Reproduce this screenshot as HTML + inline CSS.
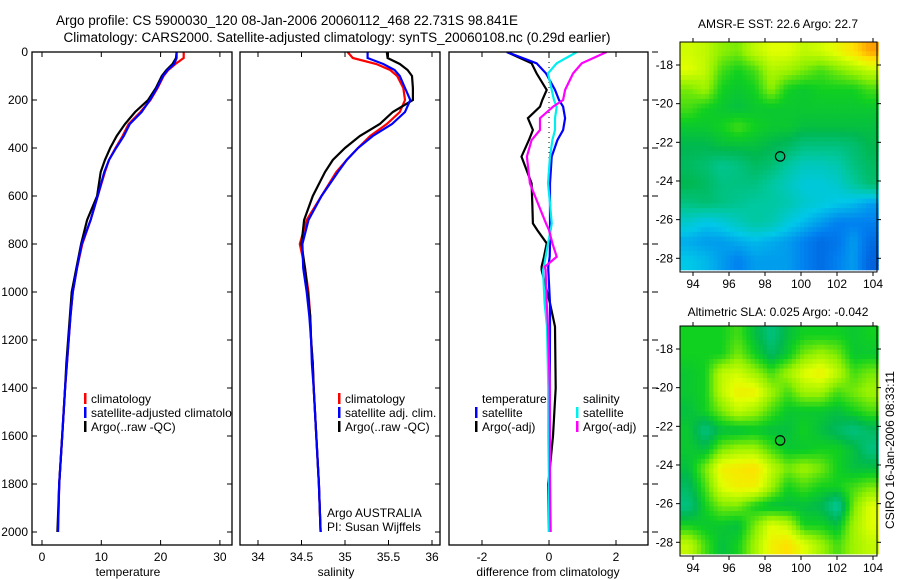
<!DOCTYPE html>
<html><head><meta charset="utf-8"><style>
html,body{margin:0;padding:0;background:#fff;}
svg{display:block;font-family:"Liberation Sans",sans-serif;}
</style></head><body>
<svg id="fig" width="900" height="580" viewBox="0 0 900 580" xmlns="http://www.w3.org/2000/svg">
<defs>
<clipPath id="clip1"><rect x="32" y="52" width="200" height="493"/></clipPath>
<clipPath id="clip2"><rect x="240" y="52" width="200" height="493"/></clipPath>
<clipPath id="clip3"><rect x="449" y="52" width="199" height="493"/></clipPath>
</defs>
<text x="287" y="25" font-size="13.5" text-anchor="middle">Argo profile: CS 5900030_120 08-Jan-2006 20060112_468 22.731S 98.841E</text>
<text x="337" y="42" font-size="13.5" text-anchor="middle">Climatology: CARS2000. Satellite-adjusted climatology: synTS_20060108.nc (0.29d earlier)</text>
<text x="778" y="28" font-size="12" text-anchor="middle">AMSR-E SST: 22.6 Argo: 22.7</text>
<text x="778" y="316" font-size="12" text-anchor="middle">Altimetric SLA: 0.025 Argo: -0.042</text>
<text transform="translate(894,450) rotate(-90)" font-size="12" text-anchor="middle">CSIRO 16-Jan-2006 08:33:11</text>
<g id="g"></g>
</svg>
<script>
// ---- profile data ----
const depths = [0,25,50,75,100,150,200,250,300,350,400,450,500,600,700,800,900,1000,1100,1200,1300,1400,1600,1800,2000];
const tempClim = [23.9,23.9,22.5,21.3,20.5,19.5,18.3,16.6,14.6,13.6,12.4,11.3,10.6,9.4,8.2,6.8,5.9,5.2,4.8,4.5,4.2,3.9,3.4,2.9,2.7];
const tempSat  = [22.7,22.7,22.3,21.2,20.4,19.4,18.2,16.8,14.8,13.8,12.5,11.3,10.5,9.4,8.2,6.7,5.9,5.2,4.8,4.5,4.2,3.9,3.4,2.9,2.7];
const tempArgo = [22.7,22.6,22.0,21.0,20.2,19.2,17.9,15.7,14.0,12.6,11.5,10.6,9.9,9.3,7.6,6.6,5.8,5.0,4.7,4.4,4.1,3.9,3.4,2.9,2.6];
const salClim = [35.03,35.09,35.36,35.52,35.60,35.67,35.69,35.63,35.48,35.29,35.15,35.02,34.90,34.73,34.56,34.48,34.54,34.58,34.60,34.61,34.63,34.64,34.67,34.70,34.72];
const salSat  = [35.26,35.26,35.44,35.57,35.63,35.69,35.75,35.69,35.54,35.32,35.15,35.02,34.92,34.73,34.58,34.51,34.52,34.56,34.59,34.61,34.62,34.64,34.67,34.70,34.72];
const salArgo = [35.48,35.49,35.63,35.72,35.77,35.78,35.78,35.55,35.40,35.17,35.00,34.86,34.77,34.63,34.53,34.50,34.54,34.57,34.60,34.61,34.63,34.64,34.67,34.70,34.72];
const diffDepths = [0,47,89,158,200,228,276,325,367,436,547,631,714,742,797,853,894,908,1047,1144,1400,1600,1800,2000];
const diffTempArgo = [-1.26,-0.52,-0.37,-0.07,-0.2,-0.27,-0.63,-0.48,-0.6,-0.82,-0.52,-0.5,-0.48,-0.35,-0.07,-0.15,-0.22,-0.22,0.03,0.18,0.2,0.12,-0.02,0];
const diffTempSat = [-1.26,-0.37,-0.09,0.18,0.3,0.42,0.48,0.42,0.25,0.08,0.03,0.03,0.03,0.03,0.03,0.02,-0.02,-0.02,0.03,0.03,0.02,0.02,0.03,0.03];
const diffSalSat = [0.83,0.23,-0.03,0.08,0.15,0.23,0.18,0.18,0.1,0.03,-0.03,0.03,0.08,0.05,-0.03,-0.1,-0.15,-0.18,-0.13,-0.06,-0.02,-0.02,0,0];
const diffSalArgo = [1.72,0.98,0.72,0.48,0.42,0.12,-0.27,-0.27,-0.52,-0.66,-0.57,-0.33,-0.09,0,0.1,0.23,-0.12,-0.1,-0.07,-0.03,0.02,0.03,0.03,0.05];
const depthTicks = [0,200,400,600,800,1000,1200,1400,1600,1800,2000];
const tempTicks = [0,10,20,30];
const salTicks = [34,34.5,35,35.5,36];
const diffTicks = [-2,0,2];
const latTicks = [18,20,22,24,26,28];
const lonTicks = [94,96,98,100,102,104];
const argoLon = 98.841, argoLat = 22.731;
// SST map (rows north->south, cols west->east)
const sstGrid = [
[0.67,0.66,0.63,0.62,0.66,0.68,0.68,0.66,0.67,0.69,0.72,0.76],
[0.68,0.66,0.60,0.58,0.60,0.65,0.64,0.62,0.60,0.62,0.64,0.66],
[0.62,0.64,0.58,0.57,0.58,0.63,0.58,0.57,0.58,0.58,0.58,0.60],
[0.60,0.58,0.57,0.56,0.57,0.57,0.57,0.57,0.57,0.57,0.57,0.57],
[0.57,0.57,0.58,0.60,0.58,0.57,0.57,0.56,0.56,0.56,0.56,0.56],
[0.55,0.55,0.56,0.56,0.56,0.55,0.54,0.52,0.52,0.52,0.53,0.55],
[0.54,0.53,0.51,0.52,0.54,0.53,0.50,0.48,0.48,0.49,0.52,0.54],
[0.55,0.54,0.52,0.52,0.52,0.50,0.48,0.46,0.46,0.47,0.50,0.53],
[0.52,0.53,0.52,0.51,0.50,0.50,0.49,0.47,0.46,0.45,0.44,0.42],
[0.47,0.45,0.46,0.48,0.50,0.49,0.46,0.44,0.42,0.40,0.40,0.40],
[0.43,0.42,0.42,0.43,0.44,0.43,0.42,0.40,0.38,0.39,0.42,0.38],
[0.45,0.44,0.42,0.40,0.42,0.42,0.42,0.40,0.38,0.40,0.42,0.37]];
const slaGrid = [
[0.58,0.58,0.58,0.60,0.56,0.52,0.56,0.58,0.58,0.58,0.57,0.58],
[0.58,0.58,0.58,0.62,0.58,0.54,0.57,0.62,0.64,0.62,0.57,0.57],
[0.57,0.58,0.66,0.67,0.64,0.60,0.64,0.68,0.70,0.66,0.60,0.62],
[0.57,0.58,0.66,0.70,0.70,0.64,0.60,0.64,0.64,0.60,0.62,0.64],
[0.56,0.58,0.62,0.66,0.64,0.60,0.57,0.57,0.57,0.56,0.58,0.60],
[0.57,0.52,0.56,0.56,0.57,0.56,0.56,0.58,0.56,0.54,0.52,0.54],
[0.57,0.56,0.62,0.64,0.64,0.60,0.57,0.57,0.58,0.58,0.56,0.52],
[0.56,0.62,0.70,0.71,0.72,0.66,0.62,0.64,0.62,0.58,0.56,0.56],
[0.54,0.60,0.68,0.70,0.70,0.64,0.58,0.60,0.58,0.58,0.60,0.62],
[0.52,0.58,0.62,0.62,0.58,0.56,0.56,0.56,0.55,0.50,0.62,0.68],
[0.58,0.57,0.57,0.56,0.62,0.68,0.66,0.58,0.58,0.56,0.64,0.68],
[0.66,0.60,0.56,0.58,0.64,0.70,0.72,0.68,0.64,0.60,0.64,0.66]];

const NS='http://www.w3.org/2000/svg';
const G=document.getElementById('g');
function mk(tag,attrs,parent){const e=document.createElementNS(NS,tag);for(const k in attrs)e.setAttribute(k,attrs[k]);(parent||G).appendChild(e);return e;}
const yD = d => 52 + d*0.24;
const xT = t => 42 + t*5.93;
const xS = s => 345 + (s-35)*87;
const xDf = v => 549 + v*33.5;
const panels = [[32,232],[240,440],[449,648]];
const TOP=52, BOT=545;
const layers=[1,2,3].map(i=>mk('g',{'clip-path':'url(#clip'+i+')'}));

panels.forEach((p,i)=>{
  const r=mk('rect',{x:p[0],y:TOP,width:p[1]-p[0],height:BOT-TOP,fill:'none',stroke:'#000','stroke-width':1.3});
  
  
  depthTicks.forEach(d=>{
    mk('line',{x1:p[1]-5,x2:p[1],y1:yD(d),y2:yD(d),stroke:'#000'});
    if(i===0) mk('line',{x1:p[0],x2:p[0]+5,y1:yD(d),y2:yD(d),stroke:'#000'});
  });
});
depthTicks.forEach(d=>{
  const t=mk('text',{x:28,y:yD(d)+4,'font-size':12,'text-anchor':'end'});
  t.textContent=d;
  
  
  mk('line',{x1:652,x2:658,y1:yD(d),y2:yD(d),stroke:'#000'});
});
function xTicks(ticks,fx){
  ticks.forEach(v=>{
    const x=fx(v);
    mk('line',{x1:x,x2:x,y1:BOT,y2:BOT-5,stroke:'#000'});
    mk('line',{x1:x,x2:x,y1:TOP,y2:TOP+5,stroke:'#000'});
    const t=mk('text',{x:x,y:561,'font-size':12,'text-anchor':'middle'});
    t.textContent=v;
    
    
  });
}
xTicks(tempTicks,xT);
xTicks(salTicks,xS);
xTicks(diffTicks,xDf);
[['temperature',128,'temperature-axis-title'],['salinity',336,'salinity-axis-title'],['difference from climatology',548,'difference-axis-title']].forEach(a=>{
  const t=mk('text',{x:a[1],y:576,'font-size':12,'text-anchor':'middle'});
  t.textContent=a[0];
  
  
});

function line(xs,ds,fx,col,name,L){
  const pts=xs.map((v,i)=>fx(v).toFixed(1)+','+yD(ds[i]).toFixed(1)).join(' ');
  const p=mk('polyline',{points:pts,fill:'none',stroke:col,'stroke-width':2.2},L);
  
  
}
mk('line',{x1:xDf(0),x2:xDf(0),y1:TOP,y2:yD(450),stroke:'#000','stroke-dasharray':'1,4'},layers[2]);

line(tempClim,depths,xT,'#f00','temp-climatology-line',layers[0]);
line(tempArgo,depths,xT,'#000','temp-argo-line',layers[0]);
line(tempSat,depths,xT,'#00f','temp-satellite-line',layers[0]);
line(salClim,depths,xS,'#f00','sal-climatology-line',layers[1]);
line(salArgo,depths,xS,'#000','sal-argo-line',layers[1]);
line(salSat,depths,xS,'#00f','sal-satellite-line',layers[1]);
line(diffTempArgo,diffDepths,xDf,'#000','diff-temp-argo-line',layers[2]);
line(diffTempSat,diffDepths,xDf,'#00f','diff-temp-satellite-line',layers[2]);
line(diffSalSat,diffDepths,xDf,'#0ee','diff-sal-satellite-line',layers[2]);
line(diffSalArgo,diffDepths,xDf,'#f0f','diff-sal-argo-line',layers[2]);

function legend(x,y,col,label,L){
  mk('rect',{x:x,y:y-10,width:2.5,height:11,fill:col},L);
  const t=mk('text',{x:x+7,y:y,'font-size':12},L);
  t.textContent=label;
  
  
}
legend(84,403,'#f00','climatology',layers[0]);
legend(84,417,'#00f','satellite-adjusted climatology',layers[0]);
legend(84,431,'#000','Argo(..raw -QC)',layers[0]);
legend(338,403,'#f00','climatology',layers[1]);
legend(338,417,'#00f','satellite adj. clim.',layers[1]);
legend(338,431,'#000','Argo(..raw -QC)',layers[1]);
[['temperature',482,403],['salinity',583,403]].forEach(a=>{
  const t=mk('text',{x:a[1],y:a[2],'font-size':12},layers[2]);t.textContent=a[0];
  
  
});
legend(475,417,'#00f','satellite',layers[2]);
legend(475,431,'#000','Argo(-adj)',layers[2]);
legend(576,417,'#0ee','satellite',layers[2]);
legend(576,431,'#f0f','Argo(-adj)',layers[2]);
[['Argo AUSTRALIA',517],['PI: Susan Wijffels',531]].forEach(a=>{
  const t=mk('text',{x:327,y:a[1],'font-size':12});t.textContent=a[0];
  
  
});

// ---- maps ----
const stops=[[0.35,[0,80,208]],[0.40,[0,128,240]],[0.45,[0,200,232]],[0.50,[0,200,160]],[0.55,[0,184,80]],[0.58,[16,208,32]],[0.63,[144,240,0]],[0.68,[224,255,0]],[0.72,[255,224,0]],[0.76,[255,160,0]]];
function cmap(v){
  if(v<=stops[0][0])return 'rgb('+stops[0][1]+')';
  for(let i=1;i<stops.length;i++){if(v<=stops[i][0]){const a=stops[i-1],b=stops[i],f=(v-a[0])/(b[0]-a[0]);return 'rgb('+a[1].map((c,k)=>Math.round(c+(b[1][k]-c)*f)).join(',')+')';}}
  return 'rgb('+stops[stops.length-1][1]+')';
}
function sample(grid,fr,fc){
  const nr=grid.length,nc=grid[0].length;
  const r=Math.min(Math.max(fr-0.5,0),nr-1),c=Math.min(Math.max(fc-0.5,0),nc-1);
  const r0=Math.floor(r),c0=Math.floor(c),r1=Math.min(r0+1,nr-1),c1=Math.min(c0+1,nc-1);
  const a=r-r0,b=c-c0;
  return grid[r0][c0]*(1-a)*(1-b)+grid[r0][c1]*(1-a)*b+grid[r1][c0]*a*(1-b)+grid[r1][c1]*a*b;
}
function map(grid,y18,boxTop,boxBot,name){
  const xL=lon=>693+(lon-94)*18, yL=lat=>y18+(lat-18)*19.33;
  const lon0=93.3,lon1=104.3,lat0=16.8,lat1=28.6;
  const nr=grid.length,nc=grid[0].length,S=4;
  const X0=xL(lon0),X1=xL(lon1),Y0=yL(lat0),Y1=yL(lat1);
  const cw=(X1-X0)/(nc*S),ch=(Y1-Y0)/(nr*S);
  const g=mk('g',{});
  
  
  for(let r=0;r<nr*S;r++)for(let c=0;c<nc*S;c++){
    const v=sample(grid,(r+0.5)/S,(c+0.5)/S);
    mk('rect',{x:(X0+c*cw).toFixed(2),y:(Y0+r*ch).toFixed(2),width:(cw+0.4).toFixed(2),height:(ch+0.4).toFixed(2),fill:cmap(v)},g);
  }
  mk('rect',{x:680,y:boxTop,width:197,height:boxBot-boxTop,fill:'none',stroke:'#000'});
  latTicks.forEach(l=>{
    const y=yL(l);
    mk('line',{x1:680,x2:676,y1:y,y2:y,stroke:'#000'});
    mk('line',{x1:877,x2:881,y1:y,y2:y,stroke:'#000'});
    const t=mk('text',{x:673,y:y+4,'font-size':12,'text-anchor':'end'});t.textContent='-'+l;
    
    
  });
  lonTicks.forEach(l=>{
    const x=xL(l);
    mk('line',{x1:x,x2:x,y1:boxBot,y2:boxBot+4,stroke:'#000'});
    mk('line',{x1:x,x2:x,y1:boxTop,y2:boxTop-4,stroke:'#000'});
    const t=mk('text',{x:x,y:boxBot+16,'font-size':12,'text-anchor':'middle'});t.textContent=l;
    
    
  });
  const c=mk('circle',{cx:xL(argoLon),cy:yL(argoLat),r:4.7,fill:'none',stroke:'#000','stroke-width':1.2});
  
  
}
map(sstGrid,65,42,272,'sst-map');
map(slaGrid,349,326,556,'sla-map');
</script>
</body></html>
